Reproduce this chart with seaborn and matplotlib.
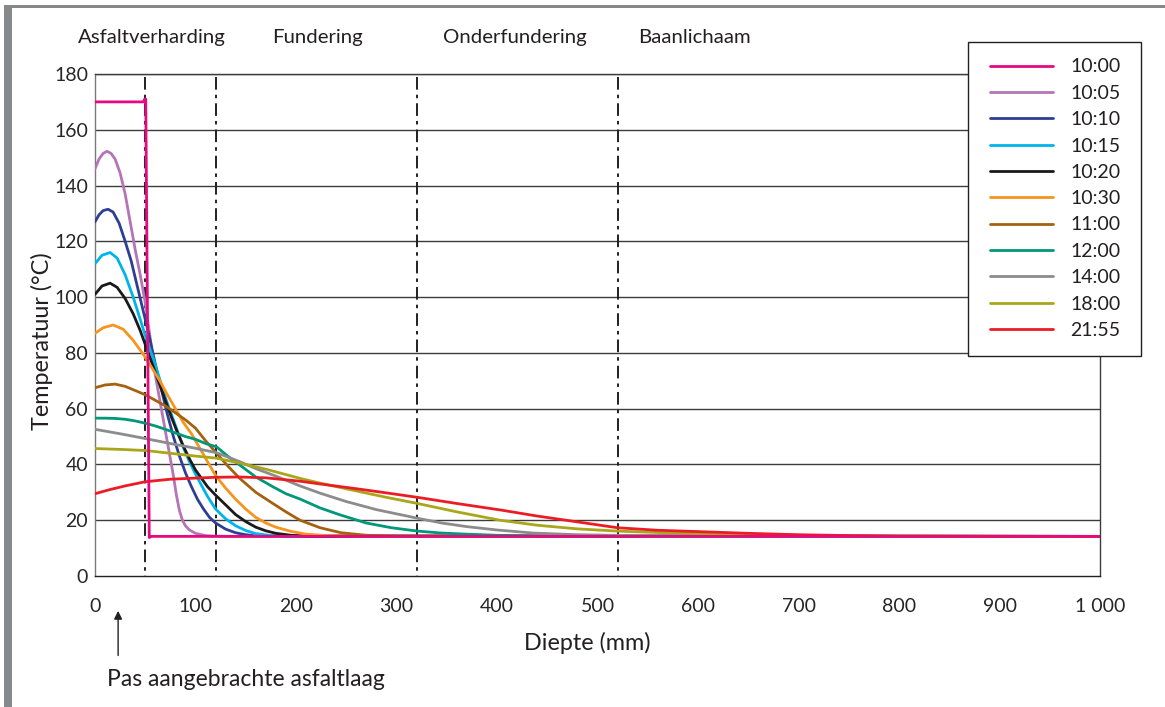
import numpy as np
import pandas as pd
import matplotlib
matplotlib.use("Agg")
import matplotlib.pyplot as plt
from matplotlib.lines import Line2D
import seaborn as sns

# Temperature profiles (depth in mm -> temperature in °C) at successive times
tijden = ["10:00", "10:05", "10:10", "10:15", "10:20", "10:30",
          "11:00", "12:00", "14:00", "18:00", "21:55"]

x_1000 = [0, 48, 49.5, 50.5, 54, 56, 1000]
t_1000 = [170, 170, 171, 171, 13.8, 14.2, 14.2]

x_1005 = [0, 4, 8, 12, 16, 20, 25, 30, 35, 40, 45, 50, 55, 60, 65, 70, 75, 78, 81, 84, 87, 90, 94, 100, 110, 120, 140, 1000]
t_1005 = [146, 149.5, 151.5, 152.3, 151.5, 149.5, 144.5, 137, 127, 117, 108, 98, 85, 72, 62, 52, 42, 36, 29, 23.5, 20, 18, 16.5, 15.3, 14.5, 14.3, 14.2, 14.2]

x_1010 = [0, 4, 8, 13, 18, 24, 30, 36, 42, 48, 54, 60, 66, 72, 78, 84, 90, 96, 102, 108, 114, 120, 130, 140, 150, 160, 1000]
t_1010 = [127, 129.5, 131, 131.5, 130.5, 126.5, 120, 113, 104, 95, 86, 76, 67, 58, 50, 43, 37, 32, 27.5, 24, 21, 19, 16.8, 15.5, 14.8, 14.4, 14.2]

x_1015 = [0, 7, 15, 22, 30, 38, 45, 52, 58, 64, 70, 76, 82, 88, 94, 100, 106, 112, 120, 130, 140, 150, 160, 175, 190, 1000]
t_1015 = [112, 115, 116, 114, 108, 100, 92, 84, 78, 71, 64, 58, 52, 46, 41, 36.5, 32.5, 28.5, 24, 20.5, 18, 16.3, 15.2, 14.5, 14.2, 14.2]

x_1020 = [0, 7, 15, 22, 30, 38, 45, 52, 58, 64, 70, 76, 82, 88, 94, 100, 106, 112, 120, 130, 140, 150, 160, 170, 180, 195, 210, 1000]
t_1020 = [101, 104, 105, 103.5, 99.5, 94, 88, 81, 75, 69, 63, 57, 51.5, 46.5, 42, 38, 35, 32, 29, 25.5, 22, 19.5, 17.5, 16.2, 15.3, 14.6, 14.3, 14.2]

x_1030 = [0, 8, 18, 28, 38, 48, 56, 64, 72, 80, 88, 96, 104, 112, 120, 130, 140, 150, 160, 170, 180, 195, 210, 230, 260, 1000]
t_1030 = [87, 89, 90, 88.5, 84.5, 79.5, 75, 70.3, 65, 60, 55, 51, 46, 41, 36, 31.5, 27.5, 24, 21, 19, 17.5, 16, 15, 14.5, 14.3, 14.2]

x_1100 = [0, 10, 20, 30, 40, 50, 60, 70, 78, 90, 100, 110, 121, 132, 144, 160, 177, 190, 204, 224, 245, 270, 300, 1000]
t_1100 = [67.5, 68.5, 68.8, 68, 66.5, 65, 63, 61, 59, 56, 53, 48.5, 44, 39.5, 35, 30, 26, 23, 20, 17.3, 15.5, 14.6, 14.3, 14.2]

x_1200 = [0, 10, 20, 30, 40, 50, 60, 70, 80, 90, 100, 110, 121, 132, 144, 160, 177, 190, 204, 224, 244, 270, 295, 321, 345, 370, 400, 450, 1000]
t_1200 = [56.6, 56.6, 56.5, 56.2, 55.6, 54.8, 53.8, 52.6, 51.3, 50, 49, 47.5, 46.3, 43, 39.8, 35.5, 32, 29.5, 27.6, 24.4, 21.9, 19, 17.3, 16.1, 15.4, 15, 14.6, 14.3, 14.2]

x_1400 = [0, 25, 50, 75, 100, 121, 144, 160, 180, 204, 224, 250, 280, 321, 345, 370, 400, 436, 480, 550, 1000]
t_1400 = [52.6, 51, 49.3, 47.5, 45.8, 44.2, 41, 38.5, 35.8, 32.3, 29.7, 26.7, 23.8, 20.7, 19, 17.7, 16.5, 15.4, 14.8, 14.4, 14.2]

x_1800 = [0, 25, 50, 75, 100, 120, 144, 170, 204, 224, 260, 290, 321, 360, 403, 440, 480, 520, 560, 602, 650, 700, 800, 1000]
t_1800 = [45.7, 45.4, 45, 44, 43, 42.3, 40.5, 38.3, 35, 33.3, 30.5, 28.2, 26, 23, 20, 18.2, 16.9, 16.1, 15.6, 15.3, 14.9, 14.6, 14.3, 14.2]

x_2155 = [0, 15, 30, 50, 75, 100, 120, 144, 170, 204, 224, 260, 290, 321, 360, 403, 440, 480, 520, 560, 602, 650, 700, 750, 800, 1000]
t_2155 = [29.5, 31, 32.3, 33.8, 34.7, 35.1, 35.4, 35.5, 35.2, 34, 33, 31.3, 29.8, 28.2, 26, 23.7, 21.5, 19.4, 17.3, 16.4, 15.9, 15.3, 14.8, 14.5, 14.3, 14.2]

kleuren = ["#e6097f", "#b474b6", "#2e3f93", "#00b4ea", "#1a1a1a", "#f7941d",
           "#a3620f", "#00977a", "#8c8c8c", "#aaa61c", "#ed1c24"]

laag_grenzen = [50, 120, 320, 520]
laag_namen = ["Asfaltverharding", "Fundering", "Onderfundering", "Baanlichaam"]
laag_label_x = [57, 221, 418, 597]

x_ticks = [0, 100, 200, 300, 400, 500, 600, 700, 800, 900, 1000]
x_ticklabels = ["0", "100", "200", "300", "400", "500", "600", "700", "800", "900", "1 000"]
y_ticks = [0, 20, 40, 60, 80, 100, 120, 140, 160, 180]

reeksen_x = [x_1000, x_1005, x_1010, x_1015, x_1020, x_1030, x_1100, x_1200, x_1400, x_1800, x_2155]
reeksen_t = [t_1000, t_1005, t_1010, t_1015, t_1020, t_1030, t_1100, t_1200, t_1400, t_1800, t_2155]

df = pd.concat(
    [pd.DataFrame({"diepte": xs, "temp": ts, "tijd": tijd})
     for tijd, xs, ts in zip(tijden, reeksen_x, reeksen_t)],
    ignore_index=True,
)

sns.set_theme(style="white")
plt.rcParams["font.family"] = ["Lato", "DejaVu Sans"]
plt.rcParams["text.color"] = "#231f20"

W, H = 1165, 707
fig = plt.figure(figsize=(W / 100, H / 100), dpi=100)
ax = fig.add_axes([95 / W, 1 - 576 / H, 1005 / W, 502 / H])

# grey page frame on the left and top
fig.add_artist(plt.Rectangle((4 / W, 0), 8 / W, 1 - 5 / H, transform=fig.transFigure,
                             color="#87888a", lw=0, zorder=0))
fig.add_artist(plt.Rectangle((4 / W, 1 - 8 / H), 1 - 4 / W, 3 / H, transform=fig.transFigure,
                             color="#87888a", lw=0, zorder=0))

# horizontal grid
for yv in y_ticks[1:]:
    ax.axhline(yv, color="#3c3c3c", lw=1.0, zorder=1)

# layer boundaries
for xb in laag_grenzen:
    ax.plot([xb, xb], [179, 0], color="#231f20", lw=1.4,
            ls=(0, (6.5, 2.6, 1.8, 2.6)), zorder=2)

# temperature curves (10:00 drawn last so it stays on top)
volgorde = tijden[1:] + tijden[:1]
for i, tijd in enumerate(volgorde):
    sub = df[df["tijd"] == tijd]
    sns.lineplot(data=sub, x="diepte", y="temp", ax=ax, color=kleuren[tijden.index(tijd)],
                 lw=2.0, estimator=None, sort=False, legend=False, zorder=3 + i)

ax.set_xlim(0, 1000)
ax.set_ylim(0, 180)
ax.set_xticks(x_ticks)
ax.set_xticklabels(x_ticklabels)
ax.set_yticks(y_ticks)
ax.tick_params(axis="x", direction="out", length=5, width=1, color="#231f20", pad=11, labelsize=14)
ax.tick_params(axis="y", length=0, pad=5, labelsize=14)

for side in ["left", "right", "top", "bottom"]:
    ax.spines[side].set_visible(True)
ax.spines["left"].set_color("#7a7a7a")
ax.spines["bottom"].set_color("#231f20")
ax.spines["right"].set_color("#3c3c3c")
ax.spines["top"].set_color("#3c3c3c")
for s in ax.spines.values():
    s.set_linewidth(1.0)

ax.set_xlabel("")
ax.set_ylabel("")
fig.text(587 / W, 1 - 643 / H, "Diepte (mm)", ha="center", va="center", fontsize=16.8)
fig.text(42 / W, 1 - 341 / H, "Temperatuur (°C)", ha="center", va="center",
         rotation=90, fontsize=16.8)

for naam, xl in zip(laag_namen, laag_label_x):
    ax.text(xl, 193, naam, ha="center", va="center", fontsize=14.7, clip_on=False)

ax.annotate("", xy=(23, -12.5), xytext=(23, -28.5), xycoords="data",
            arrowprops=dict(arrowstyle="-|>", color="#231f20", lw=1.0,
                            mutation_scale=12, shrinkA=0, shrinkB=0),
            annotation_clip=False)
fig.text(107 / W, 1 - 680 / H, "Pas aangebrachte asfaltlaag", ha="left", va="center", fontsize=16.5)

# legend box with its own frame
fig.add_artist(plt.Rectangle((968 / W, 1 - 356 / H), 173 / W, 314 / H, transform=fig.transFigure,
                             facecolor="white", edgecolor="#231f20", lw=1.0, zorder=5))
handles = [Line2D([], [], color=c, lw=2.0) for c in kleuren]
leg = fig.legend(handles, tijden, loc="upper left",
                 bbox_to_anchor=(990 / W, 1 - 58.5 / H), bbox_transform=fig.transFigure,
                 fontsize=14, frameon=False, borderpad=0, labelspacing=0.48,
                 handlelength=3.25, handletextpad=0.88, borderaxespad=0)
leg.set_zorder(6)

fig.savefig("out.png", dpi=100)
